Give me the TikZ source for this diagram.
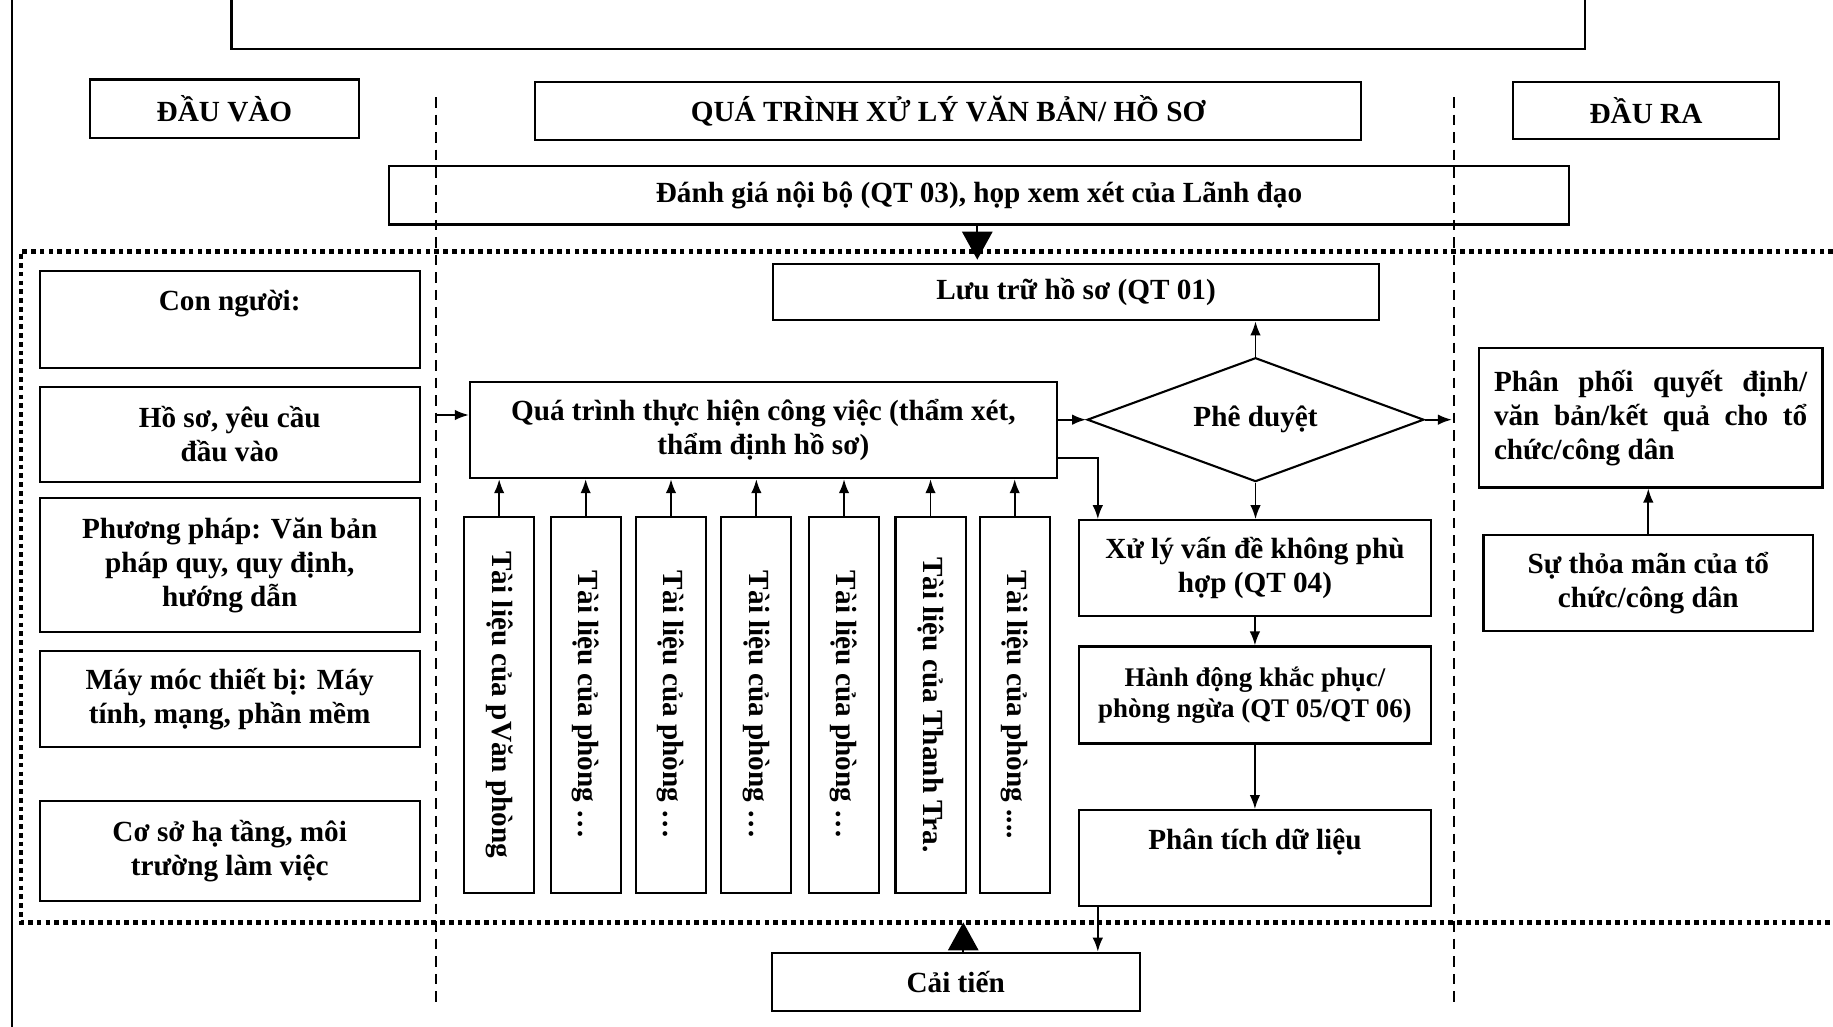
\documentclass[tikz,border=0pt]{standalone}
\usepackage{fontspec}
\setmainfont{Liberation Serif}
\usetikzlibrary{shapes.geometric,arrows.meta}

\begin{document}
\begin{tikzpicture}[x=1pt,y=-1pt]
        % Styles
        \tikzstyle{box}=[draw,line width=1.8pt,inner sep=2pt,align=center,font=\bfseries\fontsize{25}{29}\selectfont]
        \tikzstyle{left box}=[box,minimum width=325pt]
        \tikzstyle{step box}=[box,minimum width=301pt,minimum height=82pt]
        \tikzstyle{doc box}=[box,rotate=-90,minimum width=322pt,minimum height=60pt]
        \tikzstyle{arr}=[line width=1.6pt,-{Latex[length=12pt,width=9pt]}]
        \tikzstyle{big arr}=[line width=1.6pt,-{Triangle[length=24pt,width=26pt]}]
        \tikzstyle{dot line}=[line width=4pt,dash pattern=on 4pt off 3.5pt]
        \tikzstyle{column line}=[line width=1.5pt,dash pattern=on 9pt off 6pt]
        \useasboundingbox (0,0) rectangle (1568,878.5);
        %frame
        \draw[line width=1.8pt] (10,0) -- (10,878.5);
        \draw[line width=1.8pt] (198,-4) |- (1356,42) -- (1356,-4);
        \draw[column line] (373,83) -- (373,862);
        \draw[column line] (1244,83) -- (1244,862);
        \draw[dot line] (1568,215) -| (18,789) -- (1568,789);
        %headers
        \node[box,minimum width=230pt,minimum height=50pt] (dauvao) at (192,93) {ĐẦU VÀO};
        \node[box,minimum width=706pt,minimum height=50pt] (quatrinh) at (811,95) {QUÁ TRÌNH XỬ LÝ VĂN BẢN/ HỒ SƠ};
        \node[box,minimum width=228pt,minimum height=49pt] (daura) at (1408,94.5) {ĐẦU RA};
        \node[box,minimum width=1009pt,minimum height=50pt] (danhgia) at (837.5,167) {Đánh giá nội bộ (QT 03), họp xem xét của Lãnh đạo};
        %inputs
        \node[left box,minimum height=83pt] (connguoi) at (196.5,273.5) {Con người:\\[4pt] \mbox{}};
        \node[left box,minimum height=81pt] (hoso) at (196.5,371.5) {Hồ sơ, yêu cầu\\ đầu vào};
        \node[left box,minimum height=115pt] (phuongphap) at (196.5,483.5) {Phương pháp: Văn bản\\ pháp quy, quy định,\\ hướng dẫn};
        \node[left box,minimum height=82pt] (maymoc) at (196.5,598) {Máy móc thiết bị: Máy\\ tính, mạng, phần mềm};
        \node[left box,minimum height=86pt] (coso) at (196.5,728) {Cơ sở hạ tầng, môi\\ trường làm việc};
        %process
        \node[box,minimum width=519pt,minimum height=48pt] (luutru) at (920.5,250) {Lưu trữ hồ sơ (QT 01)};
        \node[box,minimum width=502pt,minimum height=82pt] (thuchien) at (653,368) {Quá trình thực hiện công việc (thẩm xét,\\ thẩm định hồ sơ)};
        \node[box,diamond,aspect=2.7,minimum width=288pt,minimum height=106pt,inner sep=0pt] (pheduyet) at (1074,359) {Phê duyệt};
        \node[step box] (xuly) at (1073.5,486) {Xử lý vấn đề không phù\\ hợp (QT 04)};
        \node[step box,minimum height=83pt,font=\bfseries\fontsize{23}{27}\selectfont] (hanhdong) at (1073.5,594.5) {Hành động khắc phục/\\ phòng ngừa (QT 05/QT 06)};
        \node[step box] (phantich) at (1073.5,734) {Phân tích dữ liệu\\[3pt] \mbox{}};
        \node[box,minimum width=315pt,minimum height=50pt] (caitien) at (817.5,840) {Cải tiến};
        \foreach \i/\x/\txt in {1/427/{Tài liệu của pVăn phòng},2/501/{Tài liệu của phòng \dots},3/574/{Tài liệu của phòng \dots},4/647/{Tài liệu của phòng \dots},5/722/{Tài liệu của phòng \dots},6/796/{Tài liệu của Thanh Tra.},7/868/{Tài liệu của phòng .{}.{}.{}.}}
            \node[doc box] (doc\i) at (\x,603) {\txt};
        %outputs
        \node[box,minimum width=294pt,minimum height=119pt,text width=268pt,align=justify] (phanphoi) at (1412,357.5) {Phân phối quyết định/\linebreak văn bản/kết quả cho tổ\linebreak chức/công dân};
        \node[box,minimum width=282pt,minimum height=82pt] (suthoaman) at (1410,499) {Sự thỏa mãn của tổ\\ chức/công dân};
        %connectors
        \coordinate (inL) at (373,355);
        \coordinate (outR) at (1242,359);
        \coordinate (dotB) at (824,789);
        \coordinate (dgB) at ([xshift=-1.5pt]danhgia.south);
        \coordinate (thB) at ([yshift=-24pt]thuchien.east);
        \coordinate (ptA) at ([xshift=17pt]phantich.south west);
        \draw[big arr,shorten >=3pt] (dgB) -- (dgB |- luutru.north);
        \draw[big arr] (dotB |- caitien.north) -- (dotB);
        \draw[arr] (inL) -- (inL -| thuchien.west);
        \draw[arr] (thuchien.east |- pheduyet.west) -- (pheduyet.west);
        \draw[arr] (thB) -| ([xshift=17pt]xuly.north west);
        \draw[arr] (pheduyet.north) -- (pheduyet.north |- luutru.south);
        \draw[arr] (pheduyet.east) -- (outR);
        \draw[arr] (pheduyet.south) -- (pheduyet.south |- xuly.north);
        \draw[arr] (xuly.south) -- (hanhdong.north);
        \draw[arr] (hanhdong.south) -- (phantich.north);
        \draw[arr] (ptA) -- (ptA |- caitien.north);
        \draw[arr] (suthoaman.north) -- (suthoaman.north |- phanphoi.south);
        \foreach \i in {1,...,7}
            \draw[arr] (doc\i.west) -- (doc\i.west |- thuchien.south);
\end{tikzpicture}
\end{document}
